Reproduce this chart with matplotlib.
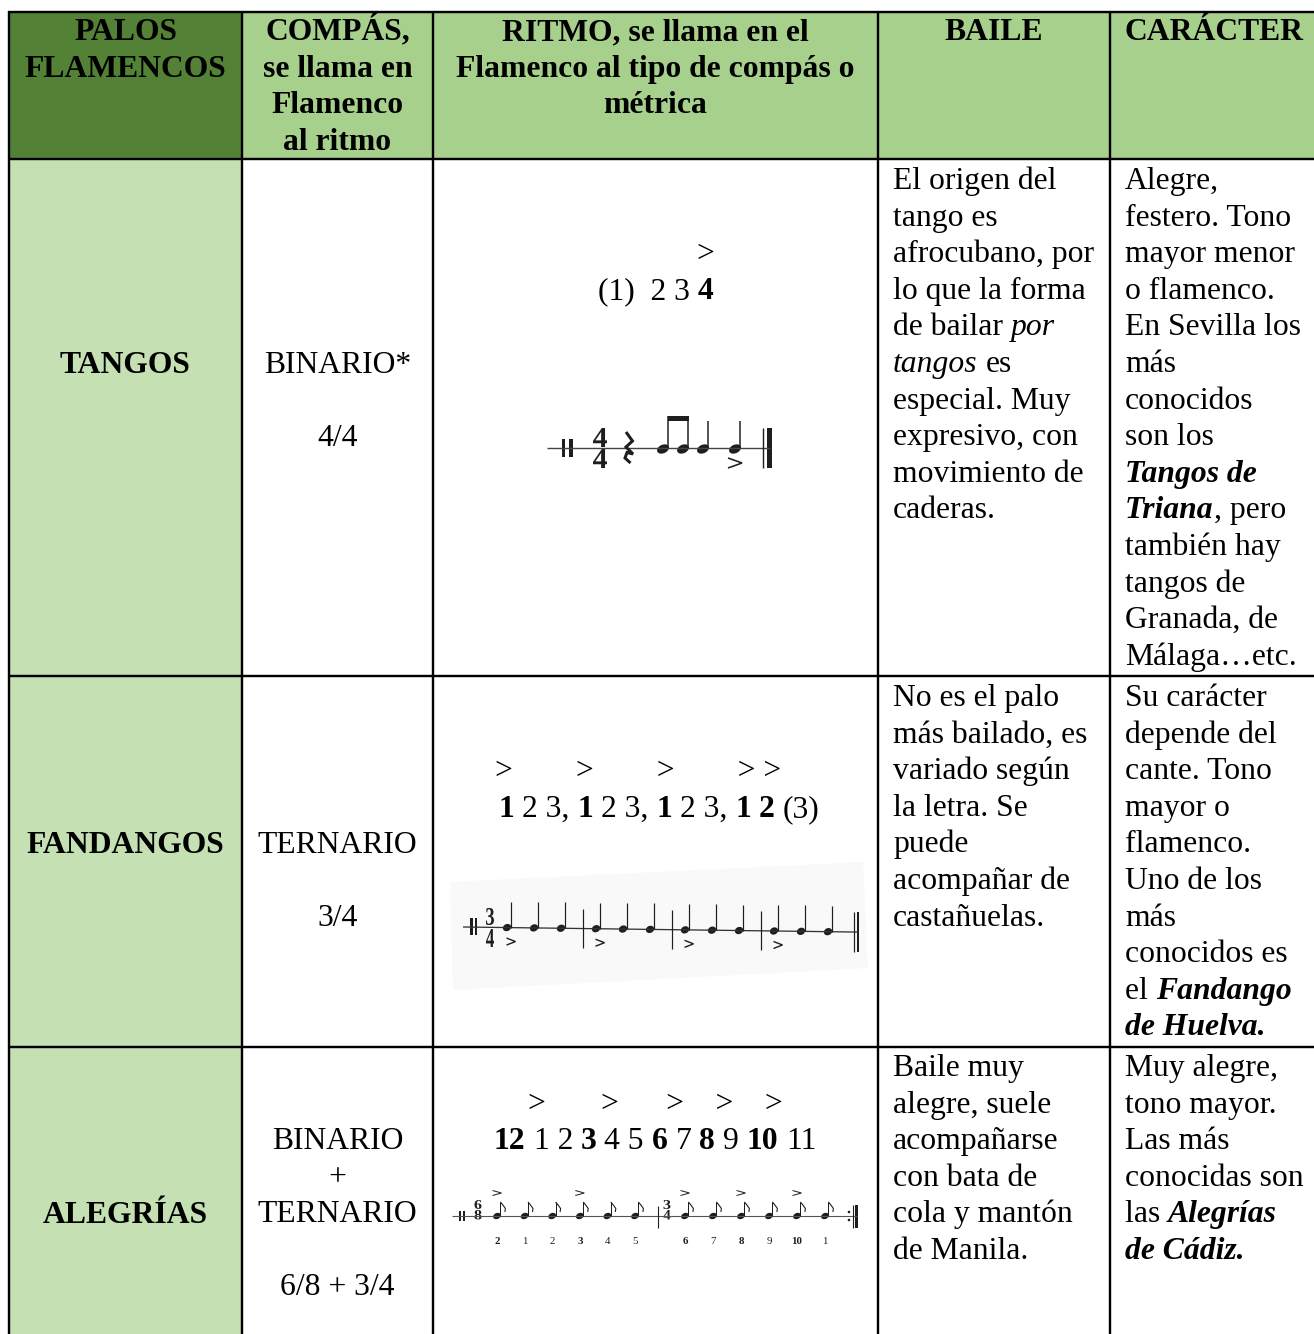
import re
import matplotlib
matplotlib.use('Agg')
import matplotlib.pyplot as plt
from matplotlib.patches import Rectangle, Ellipse, Polygon, PathPatch, Circle
from matplotlib.textpath import TextPath
from matplotlib.font_manager import FontProperties
from matplotlib.transforms import Affine2D

# ---------------- data ----------------
header_lines = [['PALOS', 'FLAMENCOS'],
                ['COMPÁS,', 'se llama en', 'Flamenco', 'al ritmo'],
                ['RITMO, se llama en el', 'Flamenco al tipo de compás o', 'métrica'],
                ['BAILE'],
                ['CARÁCTER']]
palos = ['TANGOS', 'FANDANGOS', 'ALEGRÍAS']
compas = [['BINARIO*', '', '4/4'],
          ['TERNARIO', '', '3/4'],
          ['BINARIO', '+', 'TERNARIO', '', '6/8 + 3/4']]
accent_marks = ['>',
                '>        >        >        > >',
                '>       >      >    >    >']
counts = ['(1)  2 3 **4**',
          '**1** 2 3, **1** 2 3, **1** 2 3, **1** **2** (3)',
          '**12** 1 2 **3** 4 5 **6** 7 **8** 9 **10** 11']
baile = [
    ['El origen del', 'tango es', 'afrocubano, por', 'lo que la forma',
     'de bailar _por_', '_tangos_ es', 'especial. Muy', 'expresivo, con',
     'movimiento de', 'caderas.'],
    ['No es el palo', 'más bailado, es', 'variado según', 'la letra. Se',
     'puede', 'acompañar de', 'castañuelas.'],
    ['Baile muy', 'alegre, suele', 'acompañarse', 'con bata de',
     'cola y mantón', 'de Manila.'],
]
caracter = [
    ['Alegre,', 'festero. Tono', 'mayor menor', 'o flamenco.', 'En Sevilla los',
     'más', 'conocidos', 'son los', '~Tangos de~', '~Triana~, pero',
     'también hay', 'tangos de', 'Granada, de', 'Málaga…etc.'],
    ['Su carácter', 'depende del', 'cante. Tono', 'mayor o', 'flamenco.',
     'Uno de los', 'más', 'conocidos es', 'el ~Fandango~', '~de Huelva.~'],
    ['Muy alegre,', 'tono mayor.', 'Las más', 'conocidas son',
     'las ~Alegrías~', '~de Cádiz.~'],
]
# rhythm notation
tango_meter = ('4', '4')
tango_figures = ['rest', 'eighth', 'eighth', 'quarter', 'quarter']
tango_accents = [False, False, False, False, True]
fandango_meter = ('3', '4')
fandango_accents = [[True, False, False], [True, False, False],
                    [True, False, False], [True, False, False]]
alegrias_meters = [('6', '8'), ('3', '4')]
alegrias_counts = [['2', '1', '2', '3', '4', '5'], ['6', '7', '8', '9', '10', '1']]
alegrias_strong = [[True, False, False, True, False, False],
                   [True, False, True, False, True, False]]

# ---------------- layout ----------------
W, H = 1314, 1334
FONT = 'Liberation Serif'
FS = 22.8
LS = 36.6
col_x = [9, 242, 433, 877.5, 1110, 1325]
row_y = [12, 158.5, 676, 1046.5, 1345]
DARK = '#538135'
HEAD = '#A8D08D'
LIGHT = '#C5E0B3'
INK = '#1e1e1e'
PX = 0.72  # points per pixel at dpi 100

fig = plt.figure(figsize=(W / 100, H / 100), dpi=100)
ax = fig.add_axes([0, 0, 1, 1])
ax.set_xlim(0, W)
ax.set_ylim(H, 0)
ax.axis('off')
renderer = fig.canvas.get_renderer()

STYLES = {'n': ('normal', 'normal'), 'b': ('normal', 'bold'),
          'i': ('italic', 'normal'), 'bi': ('italic', 'bold')}


def parse(s, base='n'):
    parts = re.split(r'(\*\*[^*]+\*\*|_[^_]+_|~[^~]+~)', s)
    out = []
    for p in parts:
        if not p:
            continue
        if p.startswith('**'):
            out.append((p[2:-2], 'b'))
        elif p.startswith('_'):
            out.append((p[1:-1], 'i'))
        elif p.startswith('~'):
            out.append((p[1:-1], 'bi'))
        else:
            out.append((p, base))
    return out


def text_w(s, st, size):
    style, weight = STYLES[st]
    t = ax.text(0, 0, '|' + s + '|', fontsize=size, family=FONT, style=style, weight=weight)
    w1 = t.get_window_extent(renderer).width
    t.set_text('||')
    w2 = t.get_window_extent(renderer).width
    t.remove()
    return w1 - w2


def draw_line(x, y, s, ha='left', base='n', size=FS, color='black'):
    segs = parse(s, base)
    widths = [text_w(t, st, size) for t, st in segs]
    total = sum(widths)
    x0 = x - total / 2 if ha == 'center' else x
    for (t, st), w in zip(segs, widths):
        stripped = t.lstrip(' ')
        lead = len(t) - len(stripped)
        if stripped:
            off = text_w(' ' * lead, st, size) if lead else 0
            style, weight = STYLES[st]
            ax.text(x0 + off, y, stripped, fontsize=size, family=FONT, style=style,
                    weight=weight, ha='left', va='baseline', color=color)
        x0 += w


# ---------------- cells ----------------
ax.add_patch(Rectangle((col_x[0], row_y[0]), col_x[1] - col_x[0], row_y[1] - row_y[0],
                       facecolor=DARK, edgecolor='none'))
ax.add_patch(Rectangle((col_x[1], row_y[0]), col_x[5] - col_x[1], row_y[1] - row_y[0],
                       facecolor=HEAD, edgecolor='none'))
ax.add_patch(Rectangle((col_x[0], row_y[1]), col_x[1] - col_x[0], row_y[4] - row_y[1],
                       facecolor=LIGHT, edgecolor='none'))

# fandango scan background
ax.add_patch(Polygon([(450, 882), (863, 862), (868, 968), (453, 990)],
                     closed=True, facecolor='#f9f9f9', edgecolor='none'))

# grid lines
LW = 2.4 * PX
for x in col_x[:5]:
    ax.plot([x, x], [row_y[0] - 1, H + 5], color='black', lw=LW, solid_capstyle='butt')
for y in row_y[:4]:
    ax.plot([col_x[0] - 1, W + 5], [y, y], color='black', lw=LW, solid_capstyle='butt')

# ---------------- header ----------------
hb = 40
for ci, lines in enumerate(header_lines):
    for li, s in enumerate(lines):
        if ci == 4:
            draw_line(1125, hb + li * LS, s, 'left', base='b')
        else:
            cx = (col_x[ci] + col_x[ci + 1]) / 2
            draw_line(cx, hb + li * LS, s, 'center', base='b')

# ---------------- body text ----------------
palo_base = [373, 853, 1223]
compas_base = [373, 853, 1149]
acc_base = [262, 779, 1112]
acc_left = [696, 495, 528]
count_base = [299, 817, 1149]
text_base = [189, 706, 1076]
c0 = (col_x[0] + col_x[1]) / 2
c1 = (col_x[1] + col_x[2]) / 2
c2 = (col_x[2] + col_x[3]) / 2
for r in range(3):
    draw_line(c0, palo_base[r], palos[r], 'center', base='b')
    for li, s in enumerate(compas[r]):
        if s:
            draw_line(c1, compas_base[r] + li * LS, s, 'center')
    draw_line(acc_left[r], acc_base[r], accent_marks[r], 'left')
    draw_line(c2 + (4 if r == 1 else 0), count_base[r], counts[r], 'center')
    for li, s in enumerate(baile[r]):
        draw_line(893, text_base[r] + li * LS, s, 'left')
    for li, s in enumerate(caracter[r]):
        draw_line(1125, text_base[r] + li * LS, s, 'left')

# ---------------- music helpers ----------------
BOLDFP = FontProperties(family=FONT, weight='bold')


def glyph(s, xc, ybase, height, width, color=INK):
    tp = TextPath((0, 0), s, size=1, prop=BOLDFP)
    e = tp.get_extents()
    tr = (Affine2D().translate(-(e.x0 + e.width / 2), -e.y0)
          .scale(width / e.width, -height / e.height).translate(xc, ybase))
    ax.add_patch(PathPatch(tr.transform_path(tp), facecolor=color, edgecolor='none'))


def head(x, y, w, h):
    ax.add_patch(Ellipse((x, y), w, h, angle=-25, facecolor=INK, edgecolor='none'))


def seg(xs, ys, lwpx, color=INK):
    ax.plot(xs, ys, color=color, lw=lwpx * PX, solid_capstyle='butt', solid_joinstyle='miter')


def accent(x, y, w, h, lwpx):
    seg([x - w / 2, x + w / 2, x - w / 2], [y - h / 2, y, y + h / 2], lwpx)


# ---------------- tangos ----------------
ty = 448
seg([547, 770], [ty, ty], 1.4, '#444444')
ax.add_patch(Rectangle((562, 439), 3.2, 18, facecolor=INK))
ax.add_patch(Rectangle((568.5, 439), 4, 18, facecolor=INK))
glyph(tango_meter[0], 600, 447, 19, 14)
glyph(tango_meter[1], 600, 468, 19, 14)
advance = {'rest': 34, 'eighth': 20, 'quarter': 32}
x = 629
prev_eighth = None
for fig_name, acc in zip(tango_figures, tango_accents):
    if fig_name == 'rest':
        c, t = x, 432
        seg([c - 3, c + 3.5, c - 3, c + 4, c - 2, c - 4, c + 1.5],
            [t, t + 9, t + 15, t + 22, t + 20.5, t + 26, t + 31], 3.0)
    else:
        head(x, ty + 1, 12.5, 8.5)
        sx = x + 5.3
        top = 416 if fig_name == 'eighth' else 421
        seg([sx, sx], [ty, top], 1.5)
        if fig_name == 'eighth':
            if prev_eighth is not None:
                ax.add_patch(Rectangle((prev_eighth - 0.7, top), sx - prev_eighth + 1.4, 4.5,
                                       facecolor=INK))
                prev_eighth = None
            else:
                prev_eighth = sx
        if acc:
            accent(x, ty + 15, 14, 10, 1.6)
    x += advance[fig_name]
seg([763, 763], [428, 468], 1.4)
ax.add_patch(Rectangle((767, 428), 4.5, 40, facecolor=INK))

# ---------------- fandangos ----------------


def fy(xx):
    return 927 + (xx - 463) * 5 / 390


seg([463, 858], [fy(463), fy(858)], 1.3, '#333333')
ax.add_patch(Rectangle((470, fy(470) - 9), 2.6, 17, facecolor=INK))
ax.add_patch(Rectangle((474.5, fy(474) - 9), 2.6, 17, facecolor=INK))
glyph(fandango_meter[0], 490, 925, 17, 8)
glyph(fandango_meter[1], 490, 947, 18, 8)
for m, accs in enumerate(fandango_accents):
    mx = 507 + m * 89
    if m > 0:
        bx = mx - 13
        seg([bx, bx], [fy(bx) - 20, fy(bx) + 19], 1.2)
    for b, acc in enumerate(accs):
        nx = mx + b * 27
        ny = fy(nx)
        head(nx, ny, 8.5, 7)
        seg([nx + 3.5, nx + 3.5], [ny, ny - 26], 1.2)
        if acc:
            accent(nx + 4, ny + 14, 9, 7, 1.4)
seg([854, 854], [fy(854) - 20, fy(854) + 20], 1.2)
ax.add_patch(Rectangle((856.5, fy(856) - 20), 2.8, 40, facecolor=INK))

# ---------------- alegrias ----------------
ay = 1216
seg([452, 857], [ay, ay], 1.1, '#555555')
ax.add_patch(Rectangle((459, 1211), 2.2, 10, facecolor=INK))
ax.add_patch(Rectangle((463, 1211), 2.2, 10, facecolor=INK))
group_start = [497, 685]
group_step = [27.6, 28.0]
meter_x = [478, 667]
for g in range(2):
    glyph(alegrias_meters[g][0], meter_x[g], 1209, 9, 7)
    glyph(alegrias_meters[g][1], meter_x[g], 1219.5, 9.5, 7)
    if g == 1:
        seg([658, 658], [1206, 1228], 1.1)
    for i, (num, strong) in enumerate(zip(alegrias_counts[g], alegrias_strong[g])):
        nx = group_start[g] + i * group_step[g]
        head(nx, ay, 8, 6)
        sx = nx + 3.4
        seg([sx, sx], [ay, 1202], 1.0)
        seg([sx, sx + 2.5, sx + 5, sx + 4.5], [1202, 1205, 1208.5, 1212], 1.1)
        if strong:
            accent(nx, 1193, 9, 5, 1.0)
        ax.text(nx, 1243.5, num, fontsize=7.8, family=FONT,
                weight='bold' if strong else 'normal', ha='center', va='baseline', color=INK)
ax.add_patch(Circle((849, 1212), 1.3, facecolor=INK))
ax.add_patch(Circle((849, 1220), 1.3, facecolor=INK))
seg([852.5, 852.5], [1205, 1228], 1.1)
ax.add_patch(Rectangle((855, 1205), 3, 23, facecolor=INK))

fig.savefig('out.png', dpi=100)
